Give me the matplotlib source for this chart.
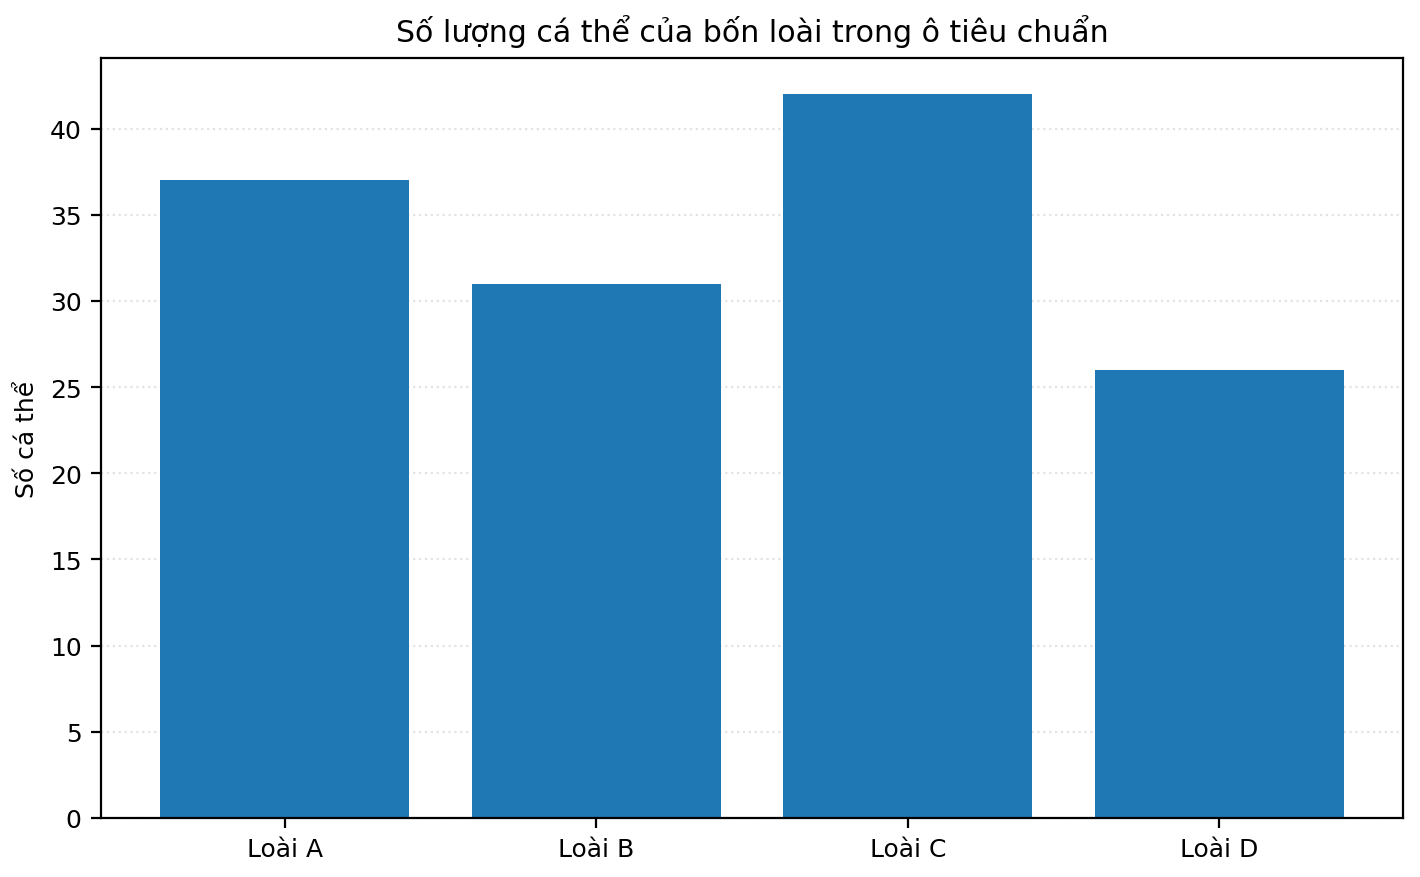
import matplotlib
matplotlib.use("Agg")
import matplotlib.pyplot as plt

# data
species = ["Loài A", "Loài B", "Loài C", "Loài D"]
counts = [37, 31, 42, 26]

plt.rcParams["font.size"] = 9

fig, ax = plt.subplots(figsize=(7.1, 4.39), dpi=200)
ax.bar(species, counts, color="#1f77b4")
ax.set_title("Số lượng cá thể của bốn loài trong ô tiêu chuẩn", fontsize=10.8)
ax.set_ylabel("Số cá thể")
ax.grid(axis="y", linestyle=":", alpha=0.35)
ax.set_axisbelow(True)

fig.subplots_adjust(left=0.0711, right=0.988, top=0.9328, bottom=0.0672)
fig.savefig("out.png", dpi=200)
